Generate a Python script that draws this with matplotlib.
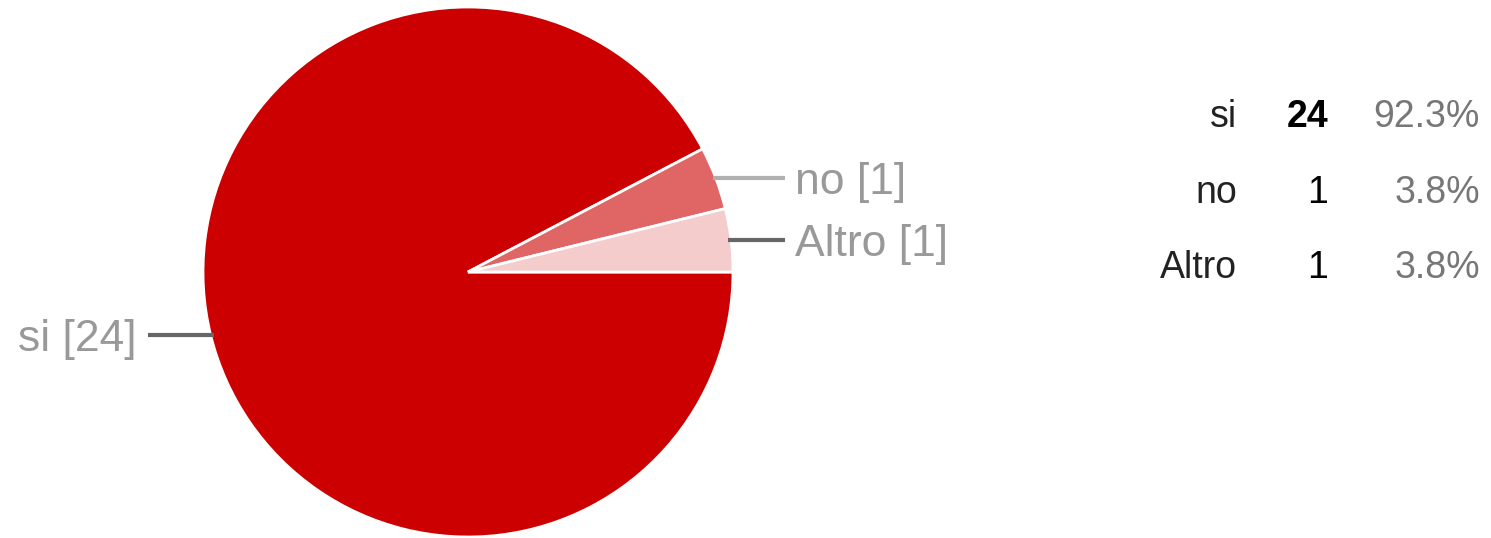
import numpy as np
import matplotlib
matplotlib.use("Agg")
import matplotlib.pyplot as plt
from matplotlib import font_manager

categories = ["si", "no", "Altro"]
counts = [24, 1, 1]
percent_labels = ["92.3%", "3.8%", "3.8%"]
colors = ["#cc0000", "#e06666", "#f4cccc"]
leader_colors = ["#666666", "#b0b0b0", "#666666"]

W, H = 1491, 538
fig = plt.figure(figsize=(W / 100, H / 100), dpi=100)
ax = fig.add_axes([0, 0, 1, 1])

cx, cy, r = 468, H - 272, 265
wedges, _ = ax.pie(counts, colors=colors, startangle=0, counterclock=False,
                   center=(cx, cy), radius=r,
                   wedgeprops=dict(edgecolor="white", linewidth=2))
ax.set_xlim(0, W)
ax.set_ylim(0, H)
ax.set_aspect("equal")
ax.axis("off")

label_font = "Liberation Sans"
names = {f.name for f in font_manager.fontManager.ttflist}
if "Liberation Sans Narrow" in names:
    table_font, table_size = "Liberation Sans Narrow", 32
else:
    table_font, table_size = "Liberation Sans", 27

for w, cat, n, lc in zip(wedges, categories, counts, leader_colors):
    ang = np.deg2rad((w.theta1 + w.theta2) / 2)
    ex = cx + r * np.cos(ang)
    ey = cy + r * np.sin(ang)
    if np.cos(ang) >= 0:
        ax.plot([ex - 3, 785], [ey, ey], color=lc, lw=3, solid_capstyle="butt")
        ax.text(795, ey, f"{cat} [{n}]", ha="left", va="center_baseline",
                fontsize=32, color="#999999", family=label_font)
    else:
        ax.plot([148, ex + 3], [ey, ey], color=lc, lw=3, solid_capstyle="butt")
        ax.text(136, ey, f"{cat} [{n}]", ha="right", va="center_baseline",
                fontsize=32, color="#999999", family=label_font)

baselines = [127, 203, 278]
for i, (cat, n, p) in enumerate(zip(categories, counts, percent_labels)):
    yb = H - baselines[i]
    ax.text(1237, yb, cat, ha="right", va="baseline", fontsize=table_size,
            color="#222222", family=table_font)
    ax.text(1328, yb, str(n), ha="right", va="baseline", fontsize=table_size,
            color="#000000", family=table_font,
            fontweight="bold" if i == 0 else "normal")
    ax.text(1480, yb, p, ha="right", va="baseline", fontsize=table_size,
            color="#777777", family=table_font)

fig.savefig("out.png", dpi=100)
